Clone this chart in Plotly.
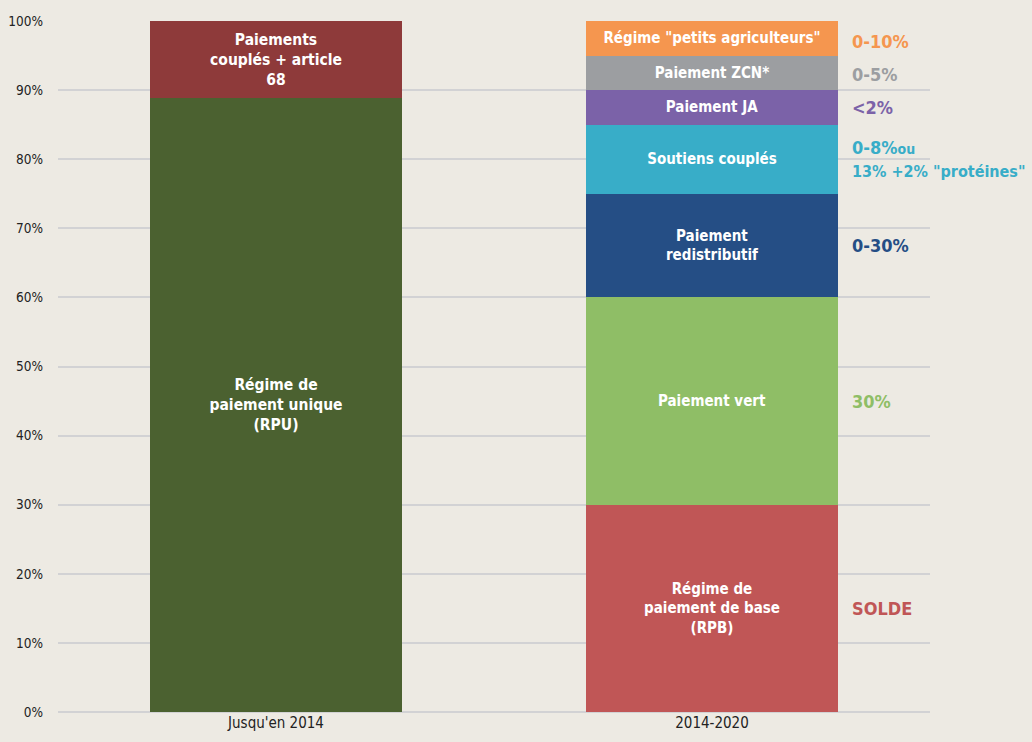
import plotly.graph_objects as go

categories = ["Jusqu'en 2014", "2014-2020"]

# left bar segments (category 0)
left_names = ["Régime de<br>paiement unique<br>(RPU)", "Paiements<br>couplés + article<br>68"]
left_values = [88.8, 11.2]
left_colors = ["#4b6130", "#8e3a3a"]

# right bar segments (category 1)
right_names = ["Régime de<br>paiement de base<br>(RPB)", "Paiement vert", "Paiement<br>redistributif",
               "Soutiens couplés", "Paiement JA", "Paiement ZCN*", "Régime \"petits agriculteurs\""]
right_values = [30, 30, 15, 10, 5, 5, 5]
right_colors = ["#c05656", "#8fbe66", "#254e85", "#38adc8", "#7b62a8", "#9c9ea1", "#f5964f"]

# side notes for right bar
notes = ["SOLDE", "30%", "0-30%",
         "0-8%<span style='font-size:14px'>ou</span><br><span style='font-size:16px'>13% +2% \"protéines\"</span>",
         "<2%", "0-5%", "0-10%"]
note_offsets = [0, 0, 0, 0, 0, -0.3, -0.5]

yticks = [0, 10, 20, 30, 40, 50, 60, 70, 80, 90, 100]
ytick_labels = ["0%", "10%", "20%", "30%", "40%", "50%", "60%", "70%", "80%", "90%", "100%"]

FONT = "DejaVu Sans Condensed, Liberation Sans Narrow, sans-serif"

fig = go.Figure()

for name, val, col in zip(left_names, left_values, left_colors):
    fig.add_trace(go.Bar(
        x=[categories[0]], y=[val], marker_color=col, marker_line_width=0,
        text=[name], textposition="inside", insidetextanchor="middle",
        textfont=dict(color="white", size=15.5, family=FONT, weight="bold"),
        constraintext="none", hoverinfo="skip", showlegend=False))

base = 0
annotations = []
for name, val, col, note, off in zip(right_names, right_values, right_colors, notes, note_offsets):
    fig.add_trace(go.Bar(
        x=[categories[1]], y=[val], marker_color=col, marker_line_width=0,
        text=[name], textposition="inside", insidetextanchor="middle",
        textfont=dict(color="white", size=15, family=FONT, weight="bold"),
        constraintext="none", hoverinfo="skip", showlegend=False))
    annotations.append(dict(
        x=0.908, xref="paper", y=base + val / 2 + off, yref="y",
        text=note, showarrow=False, xanchor="left", yanchor="middle", align="left",
        font=dict(color=col, size=18, family=FONT, weight="bold")))
    base += val

fig.update_layout(
    width=1032, height=742,
    barmode="stack", bargap=0.424,
    paper_bgcolor="#edeae3", plot_bgcolor="#edeae3",
    margin=dict(l=58, r=102, t=21, b=30),
    annotations=annotations,
    font=dict(family=FONT, color="#222"),
    xaxis=dict(showgrid=False, showline=False, ticks="", automargin=False,
               tickfont=dict(size=15, color="#222", family=FONT), fixedrange=True),
    yaxis=dict(range=[0, 100], tickvals=yticks, ticktext=ytick_labels, automargin=False,
               showgrid=True, gridcolor="#d2d2d4", gridwidth=2,
               zeroline=True, zerolinecolor="#d2d2d4", zerolinewidth=2,
               tickfont=dict(size=13.5, color="#222", family=FONT),
               ticklabelstandoff=14, fixedrange=True),
)

fig.write_html("out.html", config={"displayModeBar": False},
               post_script="document.body.style.margin='0px';document.body.style.background='#edeae3';")
